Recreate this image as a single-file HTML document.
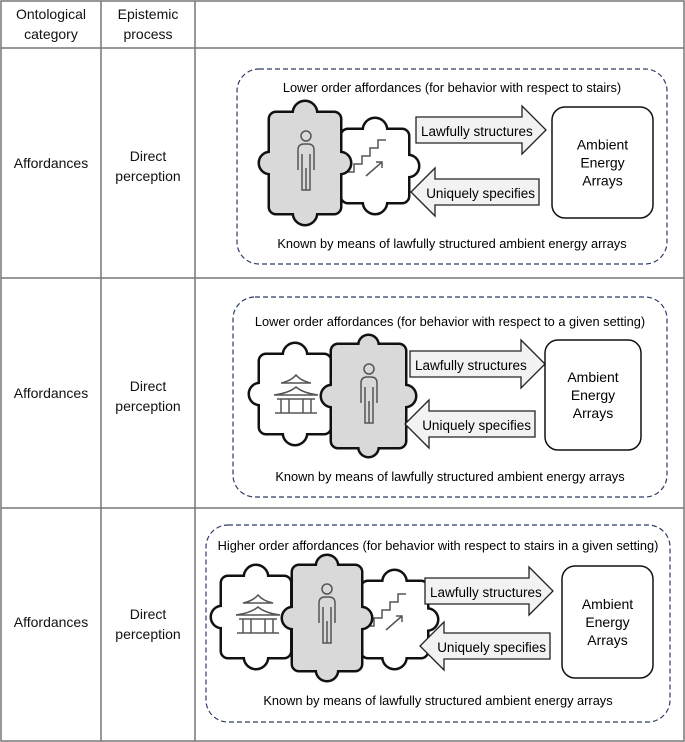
<!DOCTYPE html>
<html><head><meta charset="utf-8"><style>
body{margin:0;background:#fff}
svg{display:block;font-family:"Liberation Sans",sans-serif}
</style></head><body>
<svg id="s" width="685" height="742" viewBox="0 0 685 742" xmlns="http://www.w3.org/2000/svg">
<rect x="1" y="1" width="683" height="740" fill="#fff" stroke="#777" stroke-width="1.5"/>
<line x1="101" y1="1" x2="101" y2="741" stroke="#777" stroke-width="1.5"/>
<line x1="195" y1="1" x2="195" y2="741" stroke="#777" stroke-width="1.5"/>
<line x1="1" y1="48" x2="684" y2="48" stroke="#777" stroke-width="1.5"/>
<line x1="1" y1="278" x2="684" y2="278" stroke="#777" stroke-width="1.5"/>
<line x1="1" y1="508" x2="684" y2="508" stroke="#777" stroke-width="1.5"/>
<g font-size="14" fill="#111" text-anchor="middle">
<text x="51" y="19">Ontological</text><text x="51" y="39">category</text>
<text x="148" y="19">Epistemic</text><text x="148" y="39">process</text>
<text x="51" y="168">Affordances</text><text x="148" y="161">Direct</text><text x="148" y="181">perception</text>
<text x="51" y="398">Affordances</text><text x="148" y="391">Direct</text><text x="148" y="411">perception</text>
<text x="51" y="627">Affordances</text><text x="148" y="619">Direct</text><text x="148" y="639">perception</text>
</g>
<g id="d"></g>
</svg>
<script>
var g=document.getElementById('d'),h='';
function piece(x,y,w,hh,fill,kr){
 kr=kr||11;
 var k=[[x+w/2,y,kr],[x+w/2,y+hh,kr],[x,y+hh/2,10],[x+w,y+hh/2,10]];
 var sh='<rect x="'+x+'" y="'+y+'" width="'+w+'" height="'+hh+'" rx="6"/>';
 k.forEach(function(c){sh+='<circle cx="'+c[0]+'" cy="'+c[1]+'" r="'+c[2]+'"/>';});
 return '<g fill="#111" stroke="#111" stroke-width="5">'+sh+'</g><g fill="'+fill+'">'+sh+'</g>';
}
function person(cx,cy){
 return '<g fill="none" stroke="#555" stroke-width="1.5"><circle cx="'+cx+'" cy="'+(cy-24)+'" r="5"/><path d="M'+(cx-8)+' '+(cy+10)+'V'+(cy-10)+'q0-6 6-6h4q6 0 6 6V'+(cy+10)+'M'+(cx-4)+' '+(cy-6)+'V'+(cy+30)+'h8V'+(cy-6)+'M'+cx+' '+(cy+8)+'V'+(cy+30)+'"/></g>';
}
function stairs(x,y){
 return '<g fill="none" stroke="#555" stroke-width="1.5"><path d="M'+x+' '+(y+30)+'h8v-8h8v-8h8v-8h8v-8h8"/><path d="M'+(x+20)+' '+(y+34)+'l16-14m-6 0h6v6"/></g>';
}
function pagoda(x,y){
 return '<g fill="none" stroke="#555" stroke-width="1.5"><path d="M'+(x+10)+' '+(y+6)+'q10-2 15-8q5 6 15 8z M'+(x+3)+' '+(y+18)+'q15-2 22-8q7 6 22 8z M'+(x+6)+' '+(y+22)+'h38M'+(x+10)+' '+(y+22)+'v14M'+(x+18)+' '+(y+22)+'v14M'+(x+32)+' '+(y+22)+'v14M'+(x+40)+' '+(y+22)+'v14M'+(x+4)+' '+(y+36)+'h42"/></g>';
}
function rarrow(x,y,w,t){
 return '<path d="M'+x+' '+(y+11)+'H'+(x+w-24)+'V'+y+'L'+(x+w)+' '+(y+24)+'L'+(x+w-24)+' '+(y+48)+'V'+(y+37)+'H'+x+'Z" fill="#f2f2f2" stroke="#222" stroke-width="1.3"/><text x="'+(x+5)+'" y="'+(y+30)+'" font-size="13.5">'+t+'</text>';
}
function larrow(x,y,w,t){
 return '<path d="M'+(x+w)+' '+(y+11)+'H'+(x+24)+'V'+y+'L'+x+' '+(y+24)+'L'+(x+24)+' '+(y+48)+'V'+(y+37)+'H'+(x+w)+'Z" fill="#f2f2f2" stroke="#222" stroke-width="1.3"/><text x="'+(x+w-4)+'" y="'+(y+30)+'" font-size="13.5" text-anchor="end">'+t+'</text>';
}
function amb(x,y,w,hh){
 var cx=x+w/2,cy=y+hh/2;
 return '<rect x="'+x+'" y="'+y+'" width="'+w+'" height="'+hh+'" rx="13" fill="#fff" stroke="#111" stroke-width="1.5"/><g font-size="14" text-anchor="middle"><text x="'+cx+'" y="'+(cy-13)+'">Ambient</text><text x="'+cx+'" y="'+(cy+5)+'">Energy</text><text x="'+cx+'" y="'+(cy+23)+'">Arrays</text></g>';
}
function box(x,y,w,hh,t1,ty,by){
 var cx=x+w/2;
 return '<rect x="'+x+'" y="'+y+'" width="'+w+'" height="'+hh+'" rx="22" fill="none" stroke="#2e3a66" stroke-width="1.2" stroke-dasharray="5 3"/><g font-size="12.8" text-anchor="middle"><text x="'+cx+'" y="'+ty+'">'+t1+'</text><text x="'+cx+'" y="'+by+'">Known by means of lawfully structured ambient energy arrays</text></g>';
}
// row1
h+=box(237,69,430,195,'Lower order affordances (for behavior with respect to stairs)',92,248);
h+=piece(342,130,66,72,'#fff')+stairs(346,142);
h+=piece(270,113,70,100,'#d9d9d9')+person(306,160);
h+=rarrow(416,106,130,'Lawfully structures')+larrow(411,168,128,'Uniquely specifies')+amb(552,107,101,111);
// row2
h+=box(233,297,434,200,'Lower order affordances (for behavior with respect to a given setting)',326,481);
h+=piece(260,355,70,78,'#fff')+pagoda(271,377);
h+=piece(332,345,73,102,'#d9d9d9',9)+person(369,393);
h+=rarrow(410,340,135,'Lawfully structures')+larrow(405,400,130,'Uniquely specifies')+amb(545,340,96,110);
// row3
h+=box(206,525,464,197,'Higher order affordances (for behavior with respect to stairs in a given setting)',550,705);
h+=piece(222,577,68,80,'#fff')+pagoda(233,597);
h+=piece(362,582,65,75,'#fff')+stairs(366,596);
h+=piece(293,566,68,104,'#d9d9d9',10)+person(327,613);
h+=rarrow(425,567,128,'Lawfully structures')+larrow(420,622,130,'Uniquely specifies')+amb(562,566,91,112);
g.innerHTML=h;
</script>
</body></html>
